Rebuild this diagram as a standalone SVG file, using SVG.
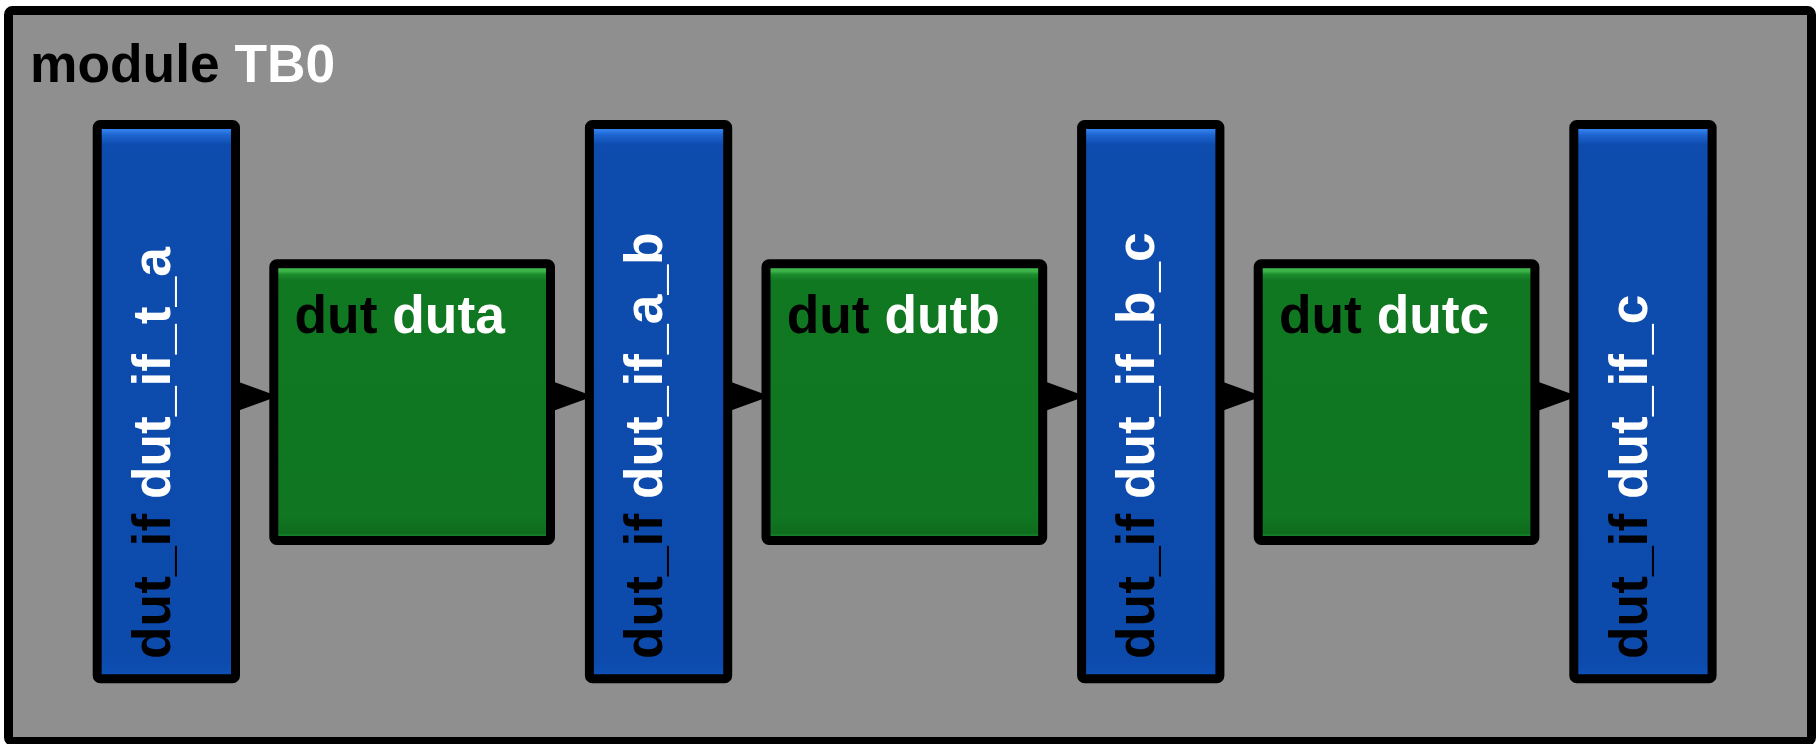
<svg xmlns="http://www.w3.org/2000/svg" xmlns:xlink="http://www.w3.org/1999/xlink" width="1816" height="744" viewBox="0 0 1816 744">
  <style>
    .lbl { font-family: "Liberation Sans", Arial, Helvetica, sans-serif; font-weight: bold; font-size: 53.33px; fill: #000000; }
    .name { fill: #ffffff; }
    .frame { fill: #8f8f8f; stroke: #000000; stroke-width: 9; }
    .iface { fill: url(#blueFill); stroke: #000000; stroke-width: 9; }
    .dut { fill: url(#greenFill); stroke: #000000; stroke-width: 9; }
    .arrow { fill: #000000; stroke: none; }
  </style>
  <defs>
    <linearGradient id="blueFill" gradientUnits="userSpaceOnUse" x1="0" y1="129" x2="0" y2="675">
      <stop offset="0" stop-color="#3584f0"/>
      <stop offset="0.012" stop-color="#1d63cf"/>
      <stop offset="0.03" stop-color="#0d4bad"/>
      <stop offset="0.97" stop-color="#0c4aab"/>
      <stop offset="1" stop-color="#0e50b6"/>
    </linearGradient>
    <linearGradient id="greenFill" gradientUnits="userSpaceOnUse" x1="0" y1="268.3" x2="0" y2="535.7">
      <stop offset="0" stop-color="#42bf50"/>
      <stop offset="0.012" stop-color="#3ab046"/>
      <stop offset="0.022" stop-color="#1e8e2e"/>
      <stop offset="0.045" stop-color="#117822"/>
      <stop offset="0.93" stop-color="#107621"/>
      <stop offset="0.99" stop-color="#0f6c1e"/>
      <stop offset="1" stop-color="#14802a"/>
    </linearGradient>
    <!-- arrowhead pointing right, tip at origin offset 42 -->
    <path id="arrowhead" class="arrow" d="M0,-15.3 L42,0 L0,15.3 Z"/>
  </defs>

  <!-- enclosing module -->
  <g id="module_TB0">
    <rect class="frame" x="8.5" y="10.5" width="1803" height="731" rx="4"/>
    <text class="lbl" x="30" y="81.7">module <tspan class="name">TB0</tspan></text>
  </g>

  <!-- connectors: interface -> dut -> interface -->
  <g id="connectors">
    <use xlink:href="#arrowhead" x="236" y="396.2"/>
    <use xlink:href="#arrowhead" x="551.5" y="396.2"/>
    <use xlink:href="#arrowhead" x="728.2" y="396.2"/>
    <use xlink:href="#arrowhead" x="1043.7" y="396.2"/>
    <use xlink:href="#arrowhead" x="1220.4" y="396.2"/>
    <use xlink:href="#arrowhead" x="1535.9" y="396.2"/>
  </g>

  <!-- interfaces -->
  <g id="dut_if_t_a">
    <rect class="iface" x="97.2" y="124.5" width="138.3" height="554.3" rx="3"/>
    <text class="lbl" transform="translate(170,659) rotate(-90)">dut_if <tspan class="name">dut_if_t_a</tspan></text>
  </g>
  <g id="dut_if_a_b">
    <rect class="iface" x="589.4" y="124.5" width="138.3" height="554.3" rx="3"/>
    <text class="lbl" transform="translate(662.2,659) rotate(-90)">dut_if <tspan class="name">dut_if_a_b</tspan></text>
  </g>
  <g id="dut_if_b_c">
    <rect class="iface" x="1081.6" y="124.5" width="138.3" height="554.3" rx="3"/>
    <text class="lbl" transform="translate(1154.4,659) rotate(-90)">dut_if <tspan class="name">dut_if_b_c</tspan></text>
  </g>
  <g id="dut_if_c">
    <rect class="iface" x="1573.8" y="124.5" width="138.3" height="554.3" rx="3"/>
    <text class="lbl" transform="translate(1646.6,659) rotate(-90)">dut_if <tspan class="name">dut_if_c</tspan></text>
  </g>

  <!-- dut instances -->
  <g id="duta">
    <rect class="dut" x="273.8" y="263.8" width="276.7" height="276.7" rx="3"/>
    <text class="lbl" x="294.5" y="333.3">dut <tspan class="name">duta</tspan></text>
  </g>
  <g id="dutb">
    <rect class="dut" x="766" y="263.8" width="276.7" height="276.7" rx="3"/>
    <text class="lbl" x="786.7" y="333.3">dut <tspan class="name">dutb</tspan></text>
  </g>
  <g id="dutc">
    <rect class="dut" x="1258.2" y="263.8" width="276.7" height="276.7" rx="3"/>
    <text class="lbl" x="1278.9" y="333.3">dut <tspan class="name">dutc</tspan></text>
  </g>
</svg>
